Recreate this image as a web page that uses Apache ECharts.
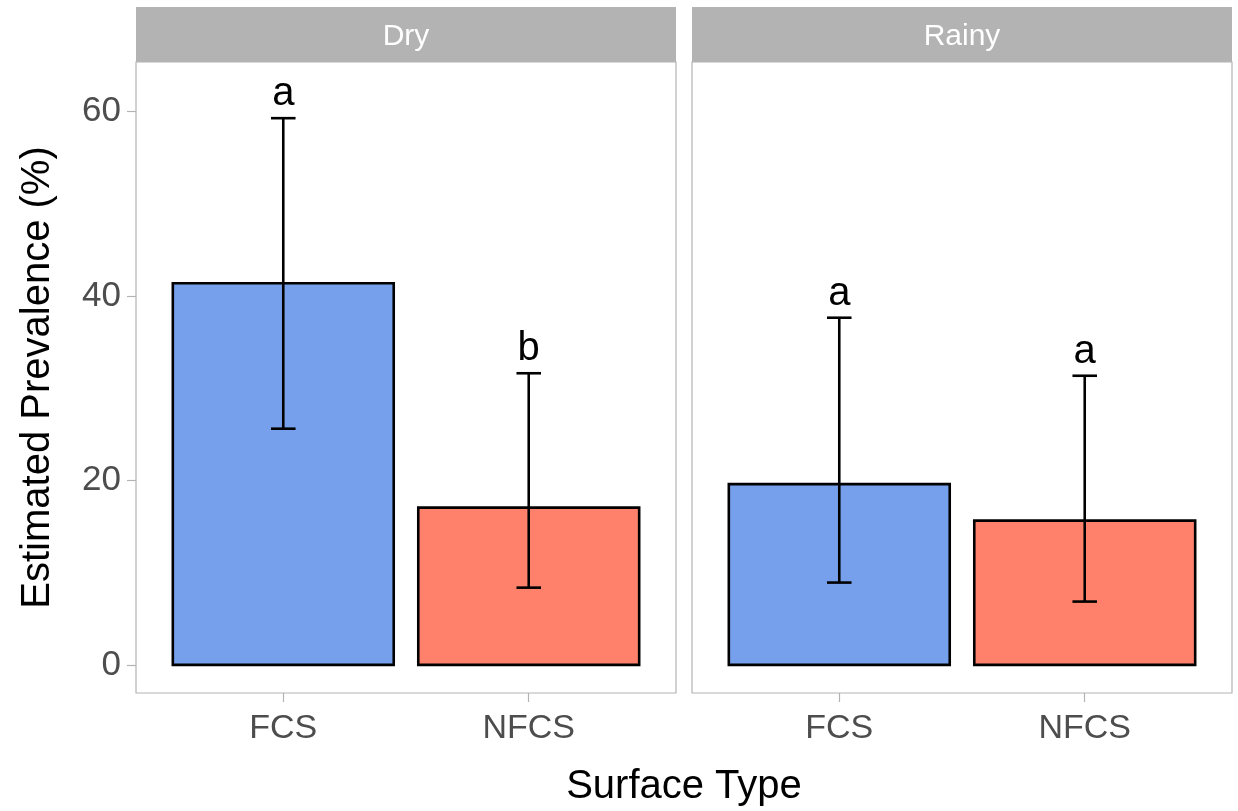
<!DOCTYPE html>
<html>
<head>
<meta charset="utf-8">
<script src="https://cdn.jsdelivr.net/npm/echarts@6/dist/echarts.min.js"></script>
<style>
html, body { margin: 0; padding: 0; background: #fff; }
#chart { width: 1238px; height: 811px; }
</style>
</head>
<body>
<div id="chart"></div>
<script>
let chart = echarts.init(document.getElementById('chart'));

// data
const seasons = ['Dry', 'Rainy'];
const categories = ['FCS', 'NFCS'];
const dryMean = [41.36, 17.04];
const dryLower = [25.6, 8.37];
const dryUpper = [59.26, 31.61];
const dryLetters = ['a', 'b'];
const rainyMean = [19.59, 15.63];
const rainyLower = [8.92, 6.86];
const rainyUpper = [37.63, 31.34];
const rainyLetters = ['a', 'a'];
const yTicks = [0, 20, 40, 60];
const barColors = ['#76a0eb', '#ff806b'];

const font = '"Liberation Sans", Arial, sans-serif';
const grey = '#b3b3b3';

function makeData(mean, lower, upper, letters) {
    return categories.map((c, i) => [i + 1, mean[i], lower[i], upper[i], letters[i], i]);
}

function renderItem(params, api) {
    let x = api.value(0);
    let mean = api.value(1);
    let lo = api.value(2);
    let hi = api.value(3);
    let letter = api.value(4);
    let idx = api.value(5);
    let tl = api.coord([x - 0.45, mean]);
    let br = api.coord([x + 0.45, 0]);
    let top = api.coord([x, hi]);
    let bot = api.coord([x, lo]);
    let capL = api.coord([x - 0.05, hi])[0];
    let capR = api.coord([x + 0.05, hi])[0];
    let line = {stroke: '#000', lineWidth: 2.6};
    return {
        type: 'group',
        children: [
            {type: 'rect', shape: {x: tl[0], y: tl[1], width: br[0] - tl[0], height: br[1] - tl[1]},
                style: {fill: barColors[idx], stroke: '#000', lineWidth: 2.6}},
            {type: 'line', shape: {x1: top[0], y1: top[1], x2: bot[0], y2: bot[1]}, style: line},
            {type: 'line', shape: {x1: capL, y1: top[1], x2: capR, y2: top[1]}, style: line},
            {type: 'line', shape: {x1: capL, y1: bot[1], x2: capR, y2: bot[1]}, style: line},
            {type: 'text', style: {text: letter, x: top[0], y: top[1] - 24, align: 'center', verticalAlign: 'middle',
                fill: '#000', font: '40px ' + font}}
        ]
    };
}

const panels = [
    {left: 136, data: makeData(dryMean, dryLower, dryUpper, dryLetters)},
    {left: 692, data: makeData(rainyMean, rainyLower, rainyUpper, rainyLetters)}
];

let option = {
    animation: false,
    grid: panels.map(p => ({
        left: p.left, top: 62, width: 540, height: 631,
        show: true, borderColor: grey, borderWidth: 1.2, backgroundColor: '#fff'
    })),
    xAxis: panels.map((p, i) => ({
        type: 'value', gridIndex: i, min: 0.4, max: 2.6,
        axisLine: {show: false, onZero: false},
        splitLine: {show: false},
        axisTick: {show: true, customValues: [1, 2], length: 9, lineStyle: {color: grey, width: 1.2}},
        axisLabel: {
            customValues: [1, 2], margin: 19, color: '#4d4d4d', fontSize: 34, fontFamily: font,
            formatter: v => categories[Math.round(v) - 1]
        }
    })),
    yAxis: panels.map((p, i) => ({
        type: 'value', gridIndex: i, min: -3.05, max: 65.35,
        show: i === 0,
        name: i === 0 ? 'Estimated Prevalence (%)' : '',
        nameLocation: 'middle', nameGap: 78, nameRotate: 90,
        nameTextStyle: {color: '#000', fontSize: 40, fontFamily: font},
        axisLine: {show: false},
        splitLine: {show: false},
        axisTick: {show: true, customValues: yTicks, length: 9, lineStyle: {color: grey, width: 1.2}},
        axisLabel: {customValues: yTicks, margin: 15, color: '#4d4d4d', fontSize: 35, fontFamily: font}
    })),
    graphic: [
        ...panels.map((p, i) => ({
            type: 'rect', shape: {x: p.left, y: 7, width: 540, height: 55},
            style: {fill: grey}
        })),
        ...panels.map((p, i) => ({
            type: 'text', x: p.left + 270, y: 37,
            style: {text: seasons[i], fill: '#fff', font: '30px ' + font, align: 'center', verticalAlign: 'middle'}
        })),
        {
            type: 'text', x: 684, y: 787,
            style: {text: 'Surface Type', fill: '#000', font: '40px ' + font, align: 'center', verticalAlign: 'middle'}
        }
    ],
    series: panels.map((p, i) => ({
        type: 'custom', xAxisIndex: i, yAxisIndex: i,
        renderItem: renderItem,
        data: p.data
    }))
};
chart.setOption(option);
</script>
</body>
</html>
